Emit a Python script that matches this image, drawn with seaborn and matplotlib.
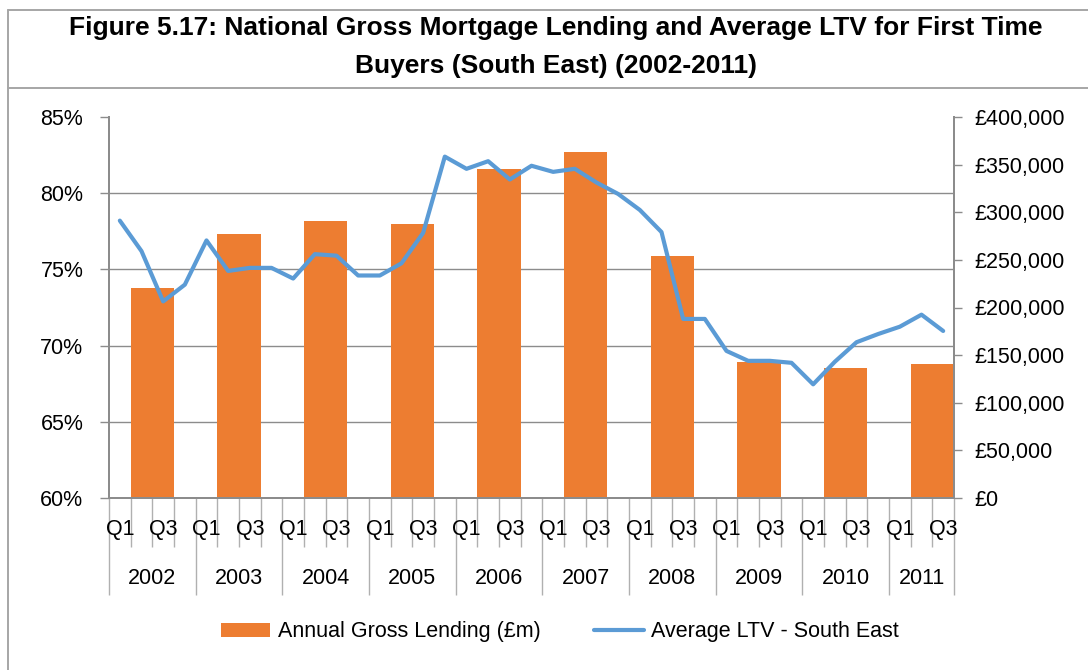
import numpy as np
import pandas as pd
import matplotlib
matplotlib.use("Agg")
import matplotlib.pyplot as plt
from matplotlib.lines import Line2D
from matplotlib.patches import Patch
import seaborn as sns

# ---- data -------------------------------------------------------------
years = ["2002", "2003", "2004", "2005", "2006", "2007", "2008", "2009", "2010", "2011"]
quarters = ["Q1", "Q2", "Q3", "Q4"]
# annual gross mortgage lending, £m (right axis)
annual_lending = [220000, 277000, 291000, 288000, 345000, 363000, 254000, 143000, 136000, 141000]
# quarterly average LTV for first time buyers, South East, % (left axis)
avg_ltv = [
    78.2, 76.2, 72.9, 74.0,   # 2002
    76.9, 74.9, 75.1, 75.1,   # 2003
    74.4, 76.0, 75.9, 74.6,   # 2004
    74.6, 75.4, 77.4, 82.4,   # 2005
    81.6, 82.1, 80.9, 81.8,   # 2006
    81.4, 81.6, 80.7, 79.95,  # 2007
    78.9, 77.45, 71.75, 71.75,  # 2008
    69.65, 69.0, 69.0, 68.87,  # 2009
    67.46, 68.94, 70.22, 70.76,  # 2010
    71.24, 72.03, 70.96,      # 2011 (Q1-Q3)
]
ltv_ticks = [60, 65, 70, 75, 80, 85]
lending_ticks = [0, 50000, 100000, 150000, 200000, 250000, 300000, 350000, 400000]

n_q = len(avg_ltv)
q_idx = np.arange(n_q)
q_labels = [quarters[i % 4] for i in range(n_q)]
year_start = [4 * k for k in range(len(years))]
year_end = [min(4 * k + 3, n_q - 1) for k in range(len(years))]
# each annual bar sits across that year's Q2 and Q3
bar_pos = [4 * k + 1.5 for k in range(len(years))]

bars_df = pd.DataFrame({"pos": bar_pos, "lending": annual_lending})
line_df = pd.DataFrame({"q": q_idx, "ltv": avg_ltv})

# ---- style ------------------------------------------------------------
sns.set_theme(style="white")
plt.rcParams["font.family"] = ["Liberation Sans", "DejaVu Sans"]
plt.rcParams["text.color"] = "black"

ORANGE = "#ED7D31"
BLUE = "#5B9BD5"
GREY = "#8C8C8C"
FS = 15.5

W, H = 1088, 670
fig = plt.figure(figsize=(W / 100, H / 100), dpi=100)
fig.patch.set_facecolor("white")

def fx(px):
    return px / W

def fy(py):
    return 1 - py / H

ax_bar = fig.add_axes([fx(109), fy(498), fx(954) - fx(109), fy(117) - fy(498)])
ax_line = ax_bar.twinx()

# bars: annual lending on the £ scale
sns.barplot(data=bars_df, x="pos", y="lending", native_scale=True, width=0.5,
            color=ORANGE, saturation=1, errorbar=None, linewidth=0,
            ax=ax_bar, label="Annual Gross Lending (£m)")
# line: quarterly LTV on the % scale
sns.lineplot(data=line_df, x="q", y="ltv", color=BLUE, linewidth=3.0,
             ax=ax_line, label="Average LTV - South East")

for a in (ax_bar, ax_line):
    leg = a.get_legend()
    if leg is not None:
        leg.remove()
    a.set_xlabel("")
    a.set_ylabel("")
    a.set_facecolor("none")

ax_bar.set_xlim(-0.5, n_q - 0.5)
ax_bar.set_ylim(0, 400000)
ax_line.set_ylim(60, 85)

# % axis on the left, £ axis on the right
ax_line.yaxis.tick_left()
ax_bar.yaxis.tick_right()
ax_line.set_yticks(ltv_ticks)
ax_line.set_yticklabels([f"{v}%" for v in ltv_ticks])
ax_bar.set_yticks(lending_ticks)
ax_bar.set_yticklabels([f"£{v:,}" for v in lending_ticks])
ax_line.tick_params(axis="y", which="major", left=True, right=False, length=6.5,
                    width=1.0, color=GREY, pad=12, labelsize=FS, labelcolor="black")
ax_bar.tick_params(axis="y", which="major", right=True, left=False, length=6,
                   width=1.0, color=GREY, pad=9, labelsize=FS, labelcolor="black")

# horizontal gridlines at the % ticks, drawn behind the bars
grid_fracs = [(v - ltv_ticks[0]) / (ltv_ticks[-1] - ltv_ticks[0]) * 400000 for v in ltv_ticks]
ax_bar.set_yticks(grid_fracs, minor=True)
ax_bar.tick_params(axis="y", which="minor", length=0, left=False, right=False)
ax_bar.grid(False)
ax_line.grid(False)
ax_bar.yaxis.grid(True, which="minor", color=GREY, linewidth=1.0)
ax_bar.set_axisbelow(True)

for a in (ax_bar, ax_line):
    a.spines["top"].set_visible(False)
    for side in ("left", "right", "bottom"):
        a.spines[side].set_color(GREY)
        a.spines[side].set_linewidth(1.4)

# category axis: short ticks at quarter boundaries, long ticks at year boundaries
boundaries = np.arange(n_q + 1) - 0.5
year_bounds = [year_start[0] - 0.5] + [e + 0.5 for e in year_end]
ax_bar.set_xticks(year_bounds)
ax_bar.set_xticklabels([])
ax_bar.set_xticks(boundaries, minor=True)
ax_bar.tick_params(axis="x", which="major", bottom=True, top=False, direction="out",
                   length=97 * 0.72, width=1.0, color="#B0B0B0", labelbottom=False)
ax_bar.tick_params(axis="x", which="minor", bottom=True, top=False, direction="out",
                   length=49 * 0.72, width=1.0, color="#B0B0B0", labelbottom=False)

xt = ax_bar.get_xaxis_transform()
ax_h = 498 - 117
for i in q_idx:
    if q_labels[i] in ("Q1", "Q3"):
        ax_bar.text(i, -32 / ax_h, q_labels[i], transform=xt, ha="center", va="center",
                    fontsize=FS, color="black")
for k, yr in enumerate(years):
    ax_bar.text((year_start[k] + year_end[k]) / 2, -80 / ax_h, yr, transform=xt,
                ha="center", va="center", fontsize=FS, color="black")

# title block and frame
fig.text(fx(556), fy(28), "Figure 5.17: National Gross Mortgage Lending and Average LTV for First Time",
         ha="center", va="center", fontsize=19, fontweight="bold", color="black")
fig.text(fx(556), fy(66), "Buyers (South East) (2002-2011)",
         ha="center", va="center", fontsize=19, fontweight="bold", color="black")
frame_kw = dict(transform=fig.transFigure, color="#A6A6A6", linewidth=1.4)
fig.add_artist(Line2D([fx(8), 1], [fy(10), fy(10)], **frame_kw))
fig.add_artist(Line2D([fx(8), 1], [fy(88), fy(88)], **frame_kw))
fig.add_artist(Line2D([fx(8), fx(8)], [fy(10), 0], **frame_kw))

# legend along the bottom
handles = [Patch(facecolor=ORANGE, edgecolor="none", label="Annual Gross Lending (£m)"),
           Line2D([0], [0], color=BLUE, linewidth=3.0, label="Average LTV - South East")]
fig.legend(handles=handles, loc="center", bbox_to_anchor=(fx(560), fy(632)), ncol=2,
           frameon=False, fontsize=FS, handlelength=2.3, handleheight=0.6,
           handletextpad=0.35, columnspacing=2.5, labelcolor="black")

fig.savefig("out.png", dpi=100, facecolor="white")
